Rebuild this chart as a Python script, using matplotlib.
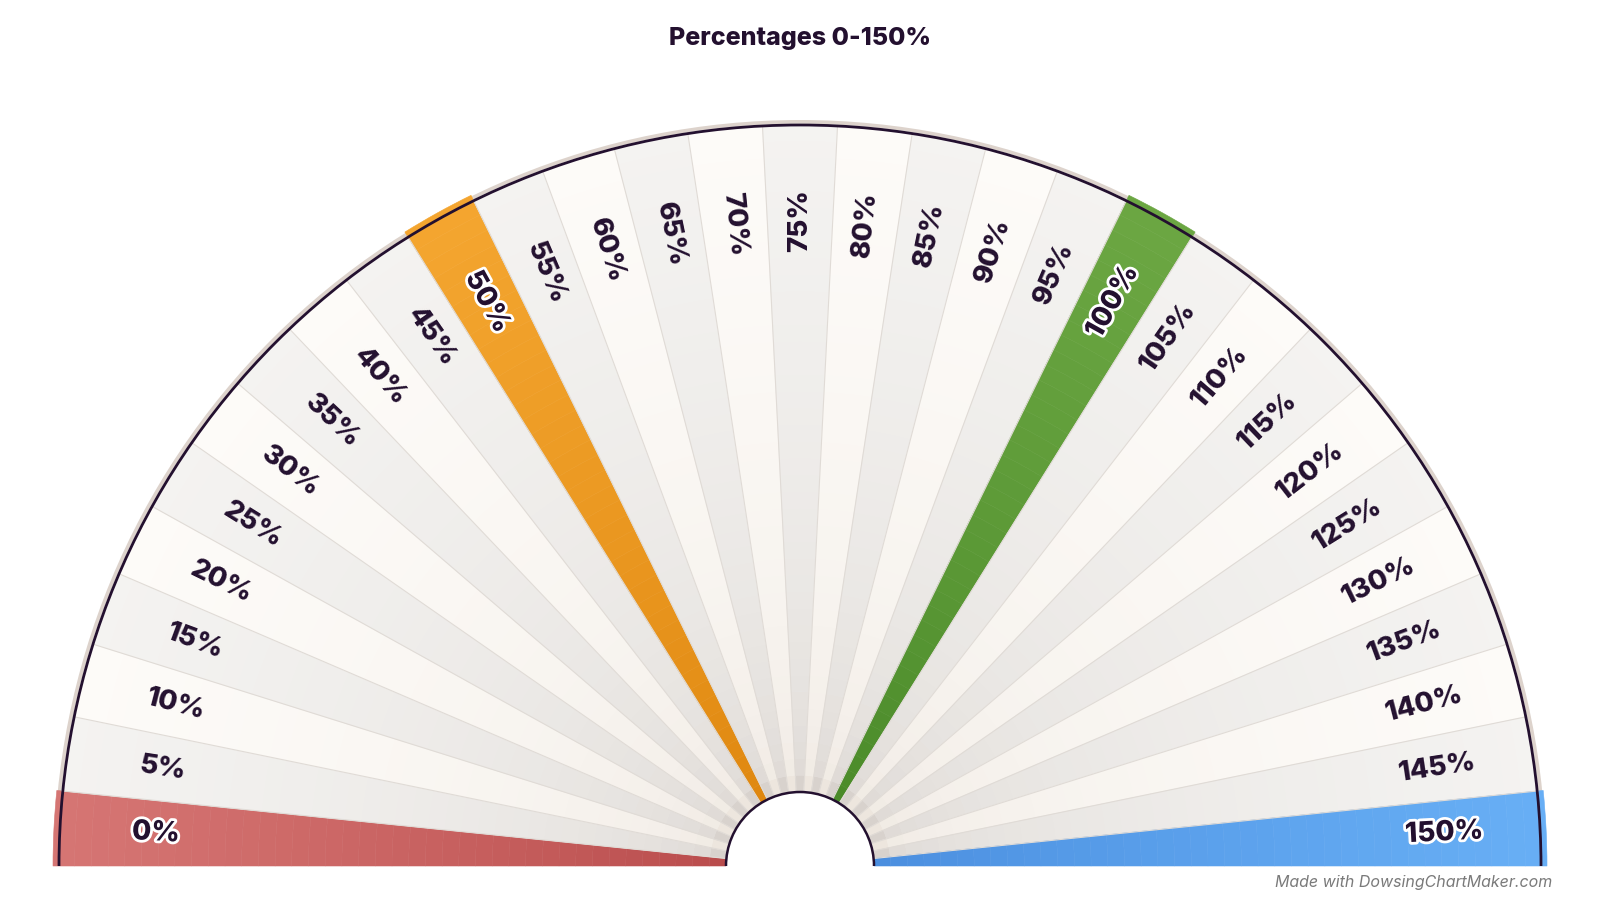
import numpy as np
import matplotlib.pyplot as plt
from matplotlib.patches import Wedge, Arc
from matplotlib.colors import to_rgb
import matplotlib.patheffects as pe

# chart content
title = "Percentages 0-150%"
footer = "Made with DowsingChartMaker.com"
percents = [0, 5, 10, 15, 20, 25, 30, 35, 40, 45, 50, 55, 60, 65, 70, 75,
            80, 85, 90, 95, 100, 105, 110, 115, 120, 125, 130, 135, 140, 145, 150]
labels = [f"{p}%" for p in percents]

# highlighted segments: (outer colour, inner colour)
highlights = {
    0: ("#d67674", "#b94c4c"),
    50: ("#f4a630", "#df870f"),
    100: ("#6ca743", "#4a8a29"),
    150: ("#68aff5", "#4a8edf"),
}
cream = ("#fdfbf8", "#ede6de")
grey = ("#f4f3f1", "#d8d2cd")

INK = "#23102f"
CX, CY = 800, 34
R_OUT, R_IN, R_LAB = 742, 74, 645

fig = plt.figure(figsize=(16, 9), dpi=100)
ax = fig.add_axes([0, 0, 1, 1])
ax.set_xlim(0, 1600)
ax.set_ylim(0, 900)
ax.axis("off")

n = len(percents)
step = 180 / n


def mix(c_in, c_out, t):
    a, b = np.array(to_rgb(c_in)), np.array(to_rgb(c_out))
    return tuple(a + (b - a) * t)


# soft outer shadow band
ax.add_patch(Wedge((CX, CY), R_OUT + 4, 0, 180, width=7, color="#ddd3cc", lw=0))

n_rings = 40
radii = np.linspace(R_IN, R_OUT, n_rings + 1)
for i, p in enumerate(percents):
    t2 = 180 - i * step
    t1 = t2 - step
    if p in highlights:
        c_out, c_in = highlights[p]
        r_top = R_OUT + 5
        gamma = 0.8
    else:
        c_out, c_in = cream if i % 2 == 0 else grey
        r_top = R_OUT
        gamma = 0.35
    rr = radii.copy()
    rr[-1] = r_top
    for k in range(n_rings):
        c = mix(c_in, c_out, (k / n_rings) ** gamma)
        ax.add_patch(Wedge((CX, CY), rr[k + 1], t1, t2, width=rr[k + 1] - rr[k],
                           facecolor=c, edgecolor=c, lw=0.4))

# separators
for i in range(1, n):
    a = np.radians(180 - i * step)
    ax.plot([CX + R_IN * np.cos(a), CX + R_OUT * np.cos(a)],
            [CY + R_IN * np.sin(a), CY + R_OUT * np.sin(a)],
            color="#e0dbd6", lw=0.8, zorder=3)

# outer dark arc
ax.add_patch(Arc((CX, CY), 2 * (R_OUT - 1), 2 * (R_OUT - 1), theta1=0, theta2=180,
                 color=INK, lw=2, zorder=4))

# inner hole
ax.add_patch(Wedge((CX, CY), R_IN, 0, 180, facecolor="white", lw=0, zorder=5))
ax.add_patch(Arc((CX, CY), 2 * R_IN, 2 * R_IN, theta1=0, theta2=180,
                 color=INK, lw=1.8, zorder=6))

# labels
for i, (p, lab) in enumerate(zip(percents, labels)):
    a = 180 - (i + 0.5) * step
    rot = a - 180 if i < n // 2 else a
    x = CX + R_LAB * np.cos(np.radians(a))
    y = CY + R_LAB * np.sin(np.radians(a))
    effects = [pe.withStroke(linewidth=4, foreground="white")] if p in highlights else None
    ax.text(x, y, lab, rotation=rot, rotation_mode="anchor", ha="center", va="center",
            fontsize=20, fontweight="heavy", family="Inter", color=INK,
            path_effects=effects, zorder=7)

fig.text(0.5, 1 - 38 / 900, title, ha="center", va="center", fontsize=18,
         fontweight="heavy", family="Inter", color=INK)
fig.text(1552 / 1600, 1 - 882 / 900, footer, ha="right", va="center", fontsize=11.5,
         style="italic", family="Inter", color="#7a7a7a")

fig.savefig("out.png", dpi=100, facecolor="white")
